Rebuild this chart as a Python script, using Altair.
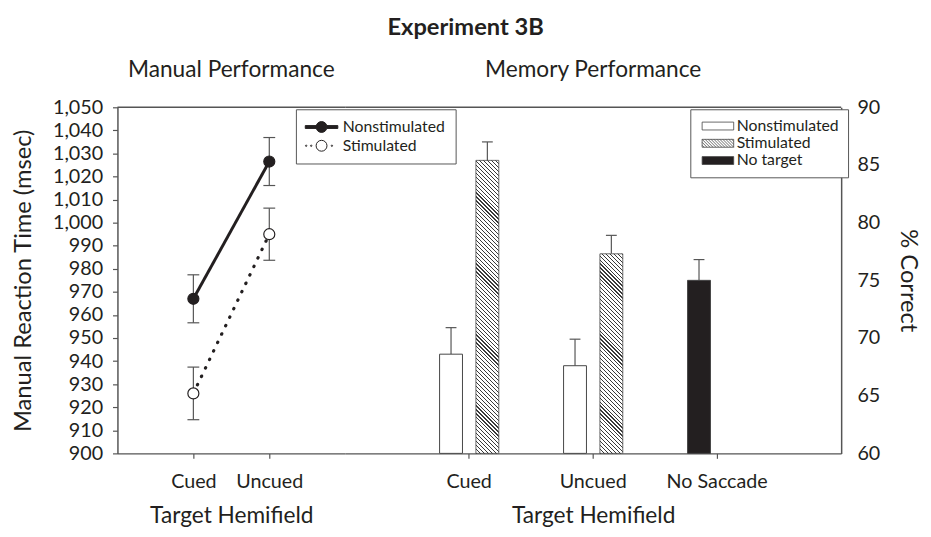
import altair as alt
import pandas as pd

# ---------------- data ----------------
rt_hemifield = ["Cued", "Uncued"]
rt_series = ["Nonstimulated", "Stimulated"]
rt_nonstim = [967.0, 1026.5]
rt_nonstim_err = [10.4, 10.4]
rt_stim = [926.0, 995.0]
rt_stim_err = [11.4, 11.3]
rt_ticks = list(range(900, 1051, 10))

mem_groups = ["Cued", "Uncued", "No Saccade"]
mem_conditions = ["Nonstimulated", "Stimulated", "No target"]
mem_bar_group = ["Cued", "Cued", "Uncued", "Uncued", "No Saccade"]
mem_bar_cond = ["Nonstimulated", "Stimulated", "Nonstimulated", "Stimulated", "No target"]
mem_bar_slot = ["first", "second", "first", "second", "first"]
mem_pct = [68.6, 85.4, 67.6, 77.3, 75.0]
mem_err = [2.3, 1.6, 2.3, 1.6, 1.8]
mem_ticks = [60, 65, 70, 75, 80, 85, 90]

# ---------------- style ----------------
FONT = "Lato"
INK = "#231f20"
GRAY = "#555555"
LEFT_W, RIGHT_W, H = 231, 503, 351
LABEL_FS, XTITLE_FS, YTITLE_FS, RTITLE_FS = 20, 23, 24, 24
PANEL_FS, MAIN_FS, LEG_FS = 23, 24, 16

# band layout of the bar panel
PI, PO = 0.414, 0.707
QI, QO = 0.370, 0.185
step = RIGHT_W / (len(mem_groups) - PI + 2 * PO)
band = step * (1 - PI)
sub_step = band / (2 - QI + 2 * QO)
BAR_W = sub_step * (1 - QI)


def hatch_gradient(w, h, period=4.0, line=1.2, color="#3a3a3a"):
    a = (w + h) * w / (w * w + h * h)
    total = w + h
    stops = []
    k = 0
    while k * period < total:
        s0 = k * period / total
        s1 = min(1.0, (k * period + line) / total)
        s2 = min(1.0, (k + 1) * period / total)
        stops += [
            {"offset": round(s0, 5), "color": color},
            {"offset": round(s1, 5), "color": color},
            {"offset": round(s1, 5), "color": "white"},
            {"offset": round(s2, 5), "color": "white"},
        ]
        k += 1
    return {"gradient": "linear", "x1": 0, "y1": 1, "x2": round(a, 5),
            "y2": round(1 - a * h / w, 5), "stops": stops}


def clip_hatch(xmin, xmax, ymin, ymax, spacing):
    segs = []
    c = xmin - (ymax - ymin)
    while c < xmax - ymin:
        y0 = max(ymin, xmin - c)
        y1 = min(ymax, xmax - c)
        if y1 > y0:
            segs.append(f"M{c + y0:.3f},{y0:.3f}L{c + y1:.3f},{y1:.3f}")
        c += spacing
    return "".join(segs)


# legend symbol paths (left: 6 px per unit, right: 4 px per unit)
r = 0.92
circle = f"M{-r},0A{r},{r},0,1,1,{r},0A{r},{r},0,1,1,{-r},0Z"
path_nonstim = f"M-2.75,-0.24L{-r},-0.24L{-r},0.24L-2.75,0.24Z" \
               f"M{r},-0.24L2.75,-0.24L2.75,0.24L{r},0.24Z" + circle
dot = lambda cx: f"M{cx - 0.12},0A0.12,0.12,0,1,1,{cx + 0.12},0A0.12,0.12,0,1,1,{cx - 0.12},0Z"
path_stim = dot(-2.6) + dot(-1.75) + circle + dot(1.75)
rect = "M-4,-1L4,-1L4,1L-4,1Z"
path_hatch = rect + clip_hatch(-4, 4, -1, 1, 0.75)

frame_df = pd.DataFrame({"edge": ["top"]})

# ---------------- left panel ----------------
left_df = pd.DataFrame({
    "hemi": rt_hemifield * 2,
    "series": [rt_series[0]] * 2 + [rt_series[1]] * 2,
    "rt": rt_nonstim + rt_stim,
    "err": rt_nonstim_err + rt_stim_err,
})
left_df["lo"] = left_df["rt"] - left_df["err"]
left_df["hi"] = left_df["rt"] + left_df["err"]
left_df["dotfill"] = [INK if s == rt_series[0] else "white" for s in left_df["series"]]

xs_l = alt.Scale(type="point", domain=rt_hemifield, padding=1)
ys_l = alt.Scale(domain=[900, 1050], nice=False, zero=False)
ax_xl = alt.Axis(labelAngle=0, tickSize=5, labelPadding=14, titlePadding=13,
                 titleFontSize=XTITLE_FS)
ax_yl = alt.Axis(values=rt_ticks, format=",d", tickSize=5, labelPadding=10, titlePadding=17,
                 titleFontSize=YTITLE_FS)
XL = alt.X("hemi:N", scale=xs_l, title="Target Hemifield", axis=ax_xl)
YL_TITLE = "Manual Reaction Time (msec)"


def yl(field):
    return alt.Y(f"{field}:Q", scale=ys_l, title=YL_TITLE, axis=ax_yl)


bl = alt.Chart(left_df)

legend_l = alt.Legend(title=None, orient="none", legendX=181, legendY=2,
                      strokeColor=GRAY, fillColor="white", padding=10,
                      labelFontSize=LEG_FS, labelFont=FONT, labelColor=INK,
                      symbolSize=144, symbolStrokeWidth=1, symbolStrokeColor=INK,
                      symbolOffset=8, labelOffset=13.5, rowPadding=3)

l_err = bl.mark_rule(color=GRAY, strokeWidth=1.2).encode(x=XL, y=yl("lo"), y2="hi:Q")
l_cap_hi = bl.mark_tick(color=GRAY, thickness=1.2, size=12, opacity=1).encode(x=XL, y=yl("hi"))
l_cap_lo = bl.mark_tick(color=GRAY, thickness=1.2, size=12, opacity=1).encode(x=XL, y=yl("lo"))
l_line_ns = bl.transform_filter(alt.datum.series == rt_series[0]).mark_line(
    color=INK, strokeWidth=3).encode(x=XL, y=yl("rt"))
l_line_s = bl.transform_filter(alt.datum.series == rt_series[1]).mark_line(
    color=INK, strokeWidth=3.2, strokeDash=[0.5, 9], strokeCap="round").encode(x=XL, y=yl("rt"))
l_pts = bl.mark_point(filled=True, shape="circle", size=125, stroke=INK, strokeWidth=1.2,
                      opacity=1).encode(x=XL, y=yl("rt"), fill=alt.Fill("dotfill:N", scale=None))
l_leg = bl.transform_filter("false").mark_point(filled=True, opacity=1, stroke=INK).encode(
    x=XL, y=yl("rt"),
    shape=alt.Shape("series:N", scale=alt.Scale(domain=rt_series, range=[path_nonstim, path_stim]),
                    legend=legend_l),
    fill=alt.Fill("series:N", scale=alt.Scale(domain=rt_series, range=[INK, "white"]),
                  legend=legend_l),
)
l_top = alt.Chart(frame_df).mark_rule(color=GRAY, strokeWidth=1.5).encode(
    x=alt.value(0), x2=alt.value(LEFT_W), y=alt.value(0))

left = alt.layer(l_top, l_err, l_cap_hi, l_cap_lo, l_line_ns, l_line_s, l_pts, l_leg).properties(
    width=LEFT_W, height=H,
    title=alt.Title("Manual Performance", fontSize=PANEL_FS, fontWeight="normal", font=FONT,
                    color=INK, offset=16))

# ---------------- right panel ----------------
right_df = pd.DataFrame({"group": mem_bar_group, "cond": mem_bar_cond, "slot": mem_bar_slot,
                         "pct": mem_pct, "err": mem_err})
right_df["hi"] = right_df["pct"] + right_df["err"]
right_df["barfill"] = ["white" if c == "Nonstimulated" else INK for c in right_df["cond"]]

xs_r = alt.Scale(type="band", domain=mem_groups, paddingInner=PI, paddingOuter=PO)
ys_r = alt.Scale(domain=[60, 90], nice=False, zero=False)
ax_xr = alt.Axis(labelAngle=0, tickSize=5, labelPadding=14, titlePadding=13,
                 titleFontSize=XTITLE_FS)
ax_yr = alt.Axis(orient="right", values=mem_ticks, ticks=False, tickSize=0,
                 labelPadding=16, titlePadding=16, titleFontSize=RTITLE_FS)
XR = alt.X("group:N", scale=xs_r, title="Target Hemifield", axis=ax_xr)
YR_TITLE = "% Correct"


def yr(field):
    return alt.Y(f"{field}:Q", scale=ys_r, title=YR_TITLE, axis=ax_yr)


xo = alt.XOffset("slot:N", scale=alt.Scale(domain=["first", "second"], paddingInner=QI,
                                           paddingOuter=QO))
br = alt.Chart(right_df)

legend_r = alt.Legend(title=None, orient="none", legendX=350, legendY=2,
                      strokeColor=GRAY, fillColor="white", padding=9,
                      labelFontSize=LEG_FS, labelFont=FONT, labelColor=INK,
                      symbolSize=64, symbolStrokeWidth=0.8, symbolStrokeColor="#333333",
                      symbolOffset=11, labelOffset=11, rowPadding=1.5)

r_err = br.mark_rule(color=GRAY, strokeWidth=1.2).encode(x=XR, xOffset=xo, y=yr("pct"), y2="hi:Q")
r_cap = br.mark_tick(color=GRAY, thickness=1.2, size=11, opacity=1).encode(
    x=XR, xOffset=xo, y=yr("hi"))
r_bars = br.transform_filter(alt.datum.cond != "Stimulated").mark_bar(
    stroke="#444444", strokeWidth=1).encode(
    x=XR, xOffset=xo, y=yr("pct"), y2=alt.datum(60), fill=alt.Fill("barfill:N", scale=None))

hatched = []
for g, c, v in zip(mem_bar_group, mem_bar_cond, mem_pct):
    if c != "Stimulated":
        continue
    h = (v - 60) / 30 * H
    hatched.append(
        br.transform_filter((alt.datum.cond == c) & (alt.datum.group == g)).mark_bar(
            fill=hatch_gradient(BAR_W, h), stroke="#444444", strokeWidth=0.8).encode(
            x=XR, xOffset=xo, y=yr("pct"), y2=alt.datum(60)))

r_leg = br.transform_filter("false").mark_point(filled=True, opacity=1, stroke="#333333").encode(
    x=XR, y=yr("pct"),
    shape=alt.Shape("cond:N", scale=alt.Scale(domain=mem_conditions, range=[rect, path_hatch, rect]),
                    legend=legend_r),
    fill=alt.Fill("cond:N", scale=alt.Scale(domain=mem_conditions, range=["white", "white", INK]),
                  legend=legend_r),
)
r_top = alt.Chart(frame_df).mark_rule(color=GRAY, strokeWidth=1.5).encode(
    x=alt.value(0), x2=alt.value(RIGHT_W), y=alt.value(0))

right = alt.layer(r_top, r_err, r_cap, r_bars, *hatched, r_leg).properties(
    width=RIGHT_W, height=H,
    title=alt.Title("Memory Performance", fontSize=PANEL_FS, fontWeight="normal", font=FONT,
                    color=INK, offset=16))

chart = alt.hconcat(left, right, spacing=0, bounds="flush").resolve_scale(
    shape="independent", fill="independent"
).properties(
    title=alt.Title("Experiment 3B", fontSize=MAIN_FS, fontWeight="bold", font=FONT, color=INK,
                    anchor="middle", offset=19),
    padding={"left": 4, "top": 5, "right": 3, "bottom": 0},
).configure_view(stroke=None).configure_axis(
    domainColor=GRAY, domainWidth=1.5, tickColor=GRAY, tickWidth=1.2, grid=False,
    labelFont=FONT, titleFont=FONT, labelFontSize=LABEL_FS, titleFontSize=XTITLE_FS,
    labelColor=INK, titleColor=INK, titleFontWeight="normal",
)

chart.save("out.html", embed_options={"renderer": "svg", "actions": False})
